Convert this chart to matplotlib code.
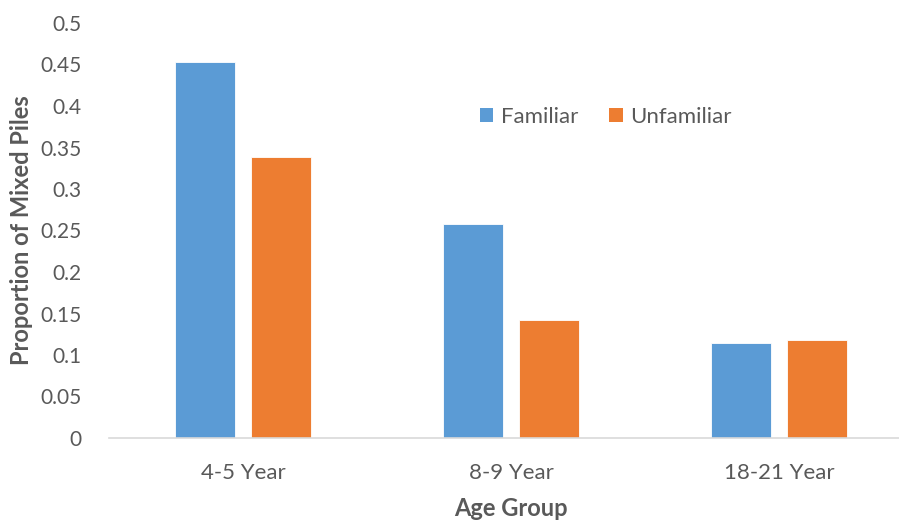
import matplotlib
matplotlib.use("Agg")
import matplotlib.pyplot as plt
import numpy as np
from matplotlib.patches import Patch

categories = ["4-5 Year", "8-9 Year", "18-21 Year"]
familiar = [0.453, 0.258, 0.115]
unfamiliar = [0.338, 0.142, 0.118]
yticks = [0, 0.05, 0.1, 0.15, 0.2, 0.25, 0.3, 0.35, 0.4, 0.45, 0.5]
ytick_labels = ["0", "0.05", "0.1", "0.15", "0.2", "0.25", "0.3", "0.35", "0.4", "0.45", "0.5"]

plt.rcParams['font.family'] = ['Lato', 'DejaVu Sans']
text_color = "#595959"
blue = "#5B9BD5"
orange = "#ED7D31"

fig = plt.figure(figsize=(8.99, 5.20), dpi=100)
ax = fig.add_axes([109/899, 82/520, 804/899, 415/520])

x = np.arange(len(categories))
w = 0.224
off = 0.142
ax.bar(x - off, familiar, w, color=blue, edgecolor="white", linewidth=0.6, label="Familiar")
ax.bar(x + off, unfamiliar, w, color=orange, edgecolor="white", linewidth=0.6, label="Unfamiliar")

ax.set_xlim(-0.5, 2.5)
ax.set_ylim(0, 0.5)
ax.set_yticks(yticks)
ax.set_yticklabels(ytick_labels)
ax.set_xticks(x)
ax.set_xticklabels(categories)

for s in ["top", "right", "left"]:
    ax.spines[s].set_visible(False)
ax.spines["bottom"].set_color("#D9D9D9")
ax.spines["bottom"].set_linewidth(1.2)
ax.tick_params(axis="both", length=0, colors=text_color)
ax.tick_params(axis="y", pad=20, labelsize=15)
ax.tick_params(axis="x", pad=18, labelsize=16)

ax.set_ylabel("Proportion of Mixed Piles", fontsize=17, fontweight="bold", color=text_color)
ax.yaxis.set_label_coords(-(109-22)/804, 0.5)
ax.yaxis.label.set_va("center")
ax.set_xlabel("Age Group", fontsize=17, fontweight="bold", color=text_color)
ax.xaxis.set_label_coords((511-109)/804, -(508-438)/415)
ax.xaxis.label.set_va("center")

handles = [Patch(facecolor=blue, label="Familiar"), Patch(facecolor=orange, label="Unfamiliar")]
leg = fig.legend(handles=handles, loc="center", bbox_to_anchor=(606/899, 1-117/520), ncol=2,
                 frameon=False, fontsize=16, handlelength=0.6, handleheight=0.6,
                 handletextpad=0.35, columnspacing=1.4, labelcolor=text_color)

fig.savefig("out.png", dpi=100)
